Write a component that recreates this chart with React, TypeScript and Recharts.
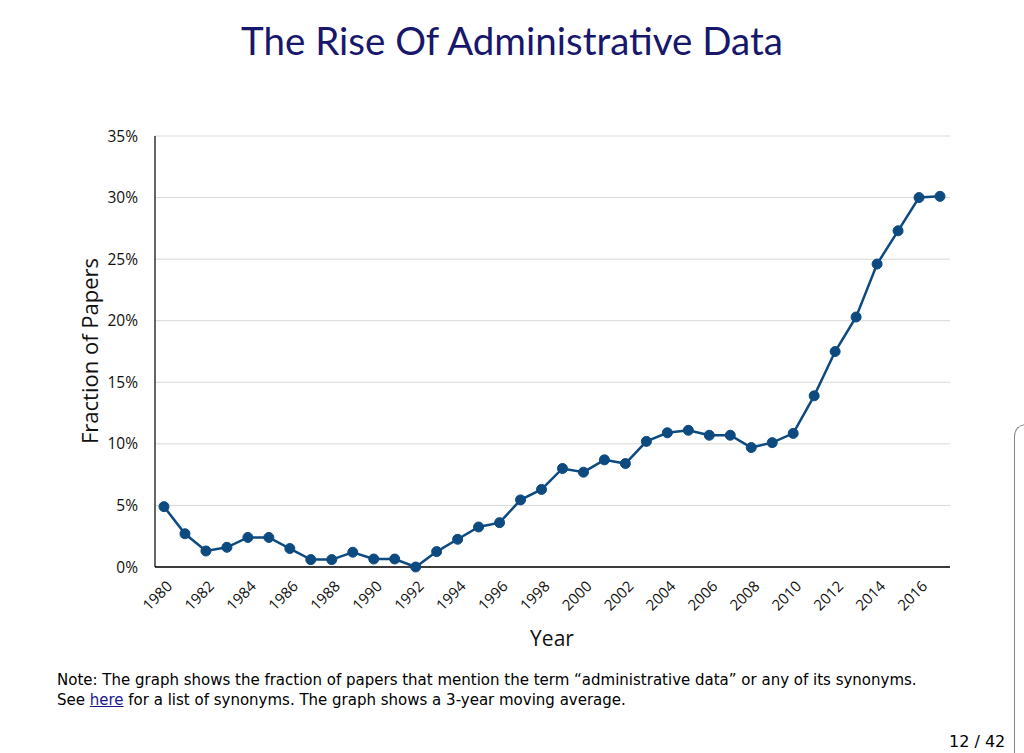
import React from "react";
import { LineChart, Line, XAxis, YAxis, CartesianGrid } from "recharts";

const years: number[] = [
  1980, 1981, 1982, 1983, 1984, 1985, 1986, 1987, 1988, 1989,
  1990, 1991, 1992, 1993, 1994, 1995, 1996, 1997, 1998, 1999,
  2000, 2001, 2002, 2003, 2004, 2005, 2006, 2007, 2008, 2009,
  2010, 2011, 2012, 2013, 2014, 2015, 2016, 2017,
];
const fractionPct: number[] = [
  4.9, 2.7, 1.3, 1.6, 2.4, 2.4, 1.5, 0.6, 0.6, 1.2,
  0.65, 0.65, 0.0, 1.25, 2.25, 3.25, 3.6, 5.45, 6.3, 8.0,
  7.7, 8.7, 8.4, 10.2, 10.9, 11.1, 10.7, 10.7, 9.7, 10.1,
  10.85, 13.9, 17.5, 20.3, 24.6, 27.3, 30.0, 30.1,
];
const yTicks: number[] = [0, 5, 10, 15, 20, 25, 30, 35];

const title = "The Rise Of Administrative Data";
const yLabel = "Fraction of Papers";
const xLabel = "Year";

const data = years.map((y, i) => ({ year: String(y), value: fractionPct[i] }));

const LINE_COLOR = "#0c4a80";
const TICK_FONT = "'Open Sans', sans-serif";

const XTick = (props: any) => {
  const { x, y, payload } = props;
  return (
    <text
      x={x + 5}
      y={y + 8}
      transform={`rotate(-45, ${x + 5}, ${y + 8})`}
      textAnchor="end"
      dominantBaseline="central"
      fontFamily={TICK_FONT}
      fontSize={15}
      fontWeight={500}
      fill="#111"
    >
      {payload.value}
    </text>
  );
};

export default function App() {
  return (
    <div
      style={{
        position: "absolute",
        left: 0,
        top: 0,
        width: 1024,
        height: 753,
        background: "#fff",
        overflow: "hidden",
        fontFamily: "'DejaVu Sans', sans-serif",
      }}
    >
      <div
        style={{
          position: "absolute",
          left: 0,
          top: 14,
          width: 1024,
          textAlign: "center",
          fontFamily: "Lato, sans-serif",
          fontSize: 38.5,
          color: "#17176b",
          lineHeight: "52px",
        }}
      >
        {title}
      </div>

      <div style={{ position: "absolute", left: 0, top: 0 }}>
        <LineChart
          width={1024}
          height={753}
          data={data}
          margin={{ top: 136, right: 74, bottom: 136, left: 95 }}
        >
          <CartesianGrid vertical={false} stroke="#d9d9d9" strokeWidth={1} />
          <XAxis
            dataKey="year"
            interval={1}
            padding={{ left: 9, right: 10 }}
            tick={<XTick />}
            tickLine={false}
            axisLine={{ stroke: "#000", strokeWidth: 1.5 }}
            height={50}
          />
          <YAxis
            type="number"
            domain={[0, 35]}
            ticks={yTicks}
            tickFormatter={(v: number) => `${v}%`}
            tickLine={false}
            axisLine={{ stroke: "#000", strokeWidth: 1.2 }}
            width={60}
            tick={{ fontFamily: TICK_FONT, fontSize: 15.5, fontWeight: 500, fill: "#111", dx: -9 }}
          />
          <Line
            type="linear"
            dataKey="value"
            stroke={LINE_COLOR}
            strokeWidth={2.5}
            dot={{ r: 5, fill: LINE_COLOR, stroke: LINE_COLOR, strokeWidth: 1 }}
            isAnimationActive={false}
          />
        </LineChart>
      </div>

      <div
        style={{
          position: "absolute",
          left: 89,
          top: 351,
          transform: "translate(-50%, -50%) rotate(-90deg)",
          fontFamily: TICK_FONT,
          fontSize: 22,
          color: "#111",
          whiteSpace: "nowrap",
        }}
      >
        {yLabel}
      </div>

      <div
        style={{
          position: "absolute",
          left: 552,
          top: 638,
          transform: "translate(-50%, -50%)",
          fontFamily: TICK_FONT,
          fontSize: 21,
          color: "#111",
        }}
      >
        {xLabel}
      </div>

      <div
        style={{
          position: "absolute",
          left: 57,
          top: 670,
          fontFamily: "'DejaVu Sans', sans-serif",
          fontSize: 15,
          lineHeight: "20px",
          color: "#000",
          whiteSpace: "nowrap",
        }}
      >
        <div>
          Note: The graph shows the fraction of papers that mention the term “administrative data” or any of its synonyms.
        </div>
        <div>
          See <span style={{ color: "#1a1a8c", textDecoration: "underline" }}>here</span> for a list of synonyms. The graph shows a 3-year moving average.
        </div>
      </div>

      <div
        style={{
          position: "absolute",
          left: 949,
          top: 732,
          fontFamily: "'DejaVu Sans', sans-serif",
          fontSize: 16,
          color: "#000",
          whiteSpace: "nowrap",
        }}
      >
        12 / 42
      </div>

      <div
        style={{
          position: "absolute",
          left: 1014,
          top: 424,
          width: 40,
          height: 400,
          borderLeft: "1.5px solid #8a8a8a",
          borderTop: "1.5px solid #8a8a8a",
          borderTopLeftRadius: 12,
        }}
      />
    </div>
  );
}
